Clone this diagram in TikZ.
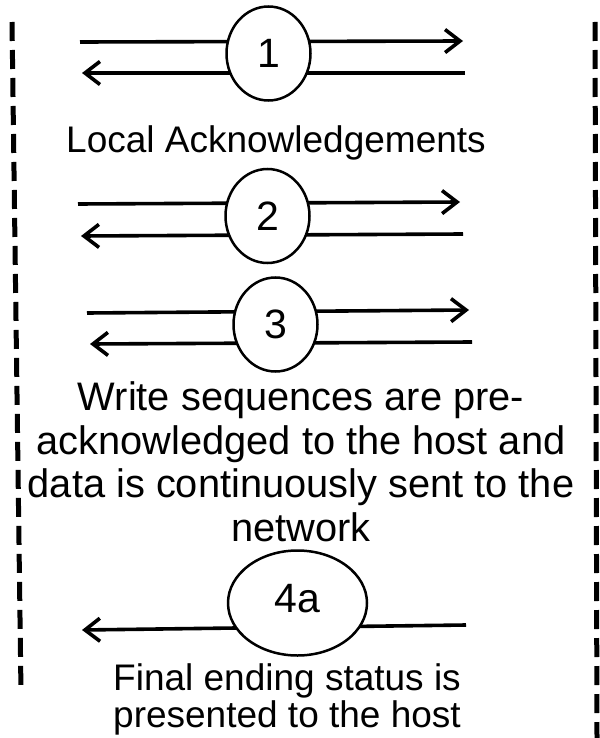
\documentclass[tikz,border=0pt]{standalone}
\usepackage{fontspec}
\setmainfont{Liberation Sans}
\usetikzlibrary{arrows.meta,shapes.geometric}

\tikzset{
  bound/.style={line width=5pt,dash pattern=on 19pt off 9pt},
  msg/.style={line width=3.6pt,-{Straight Barb[length=15pt,width=23pt]}},
  stage/.style={ellipse,draw,fill=white,line width=2.5pt,inner sep=0pt,
    minimum width=84pt,minimum height=94pt,font=\fontsize{41}{43}\selectfont},
  note/.style={align=center,inner sep=0pt,anchor=base,font=\fontsize{37}{43}\selectfont}
}

\begin{document}
\begin{tikzpicture}[x=1pt,y=-1pt]
    \useasboundingbox (0,0) rectangle (599,738);
    \draw[bound] (12,22) -- (21,692); % host side
    \draw[bound] (595,22) -- (597,738); % network side

    % free ends of the message lines
    \coordinate (a1) at (80,42); \coordinate (b1) at (463,41);
    \coordinate (a2) at (465,73); \coordinate (b2) at (82,73);
    \coordinate (c1) at (78,204); \coordinate (d1) at (460,202);
    \coordinate (c2) at (463,234); \coordinate (d2) at (81,236);
    \coordinate (e1) at (87,313); \coordinate (f1) at (469,310);
    \coordinate (e2) at (472,342); \coordinate (f2) at (90,344);
    \coordinate (g1) at (466,625); \coordinate (h1) at (82,630);

    \draw[msg] (a1) -- (b1); \draw[msg] (a2) -- (b2);
    \draw[msg] (c1) -- (d1); \draw[msg] (c2) -- (d2);
    \draw[msg] (e1) -- (f1); \draw[msg] (e2) -- (f2);
    \draw[msg] (g1) -- (h1);

    \node[stage] (s1) at (268.5,53.5) {1};
    \node[stage] (s2) at (267.5,216) {2};
    \node[stage] (s3) at (275.5,324.5) {3};
    \node[stage,minimum width=139pt,minimum height=105pt] (s4a) at (297.5,603) {\raisebox{10pt}{4a}};

    % base anchor sits on the last line
    \node[note] (local) at (276,153) {Local Acknowledgements};
    \node[note,font=\fontsize{39.8}{43.5}\selectfont] (pre) at (301,541)
        {Write sequences are pre-\\acknowledged to the host and\\data is continuously sent to the\\network};
    \node[note,font=\fontsize{37}{37}\selectfont] (final) at (287,727)
        {Final ending status is\\presented to the host};
\end{tikzpicture}
\end{document}
